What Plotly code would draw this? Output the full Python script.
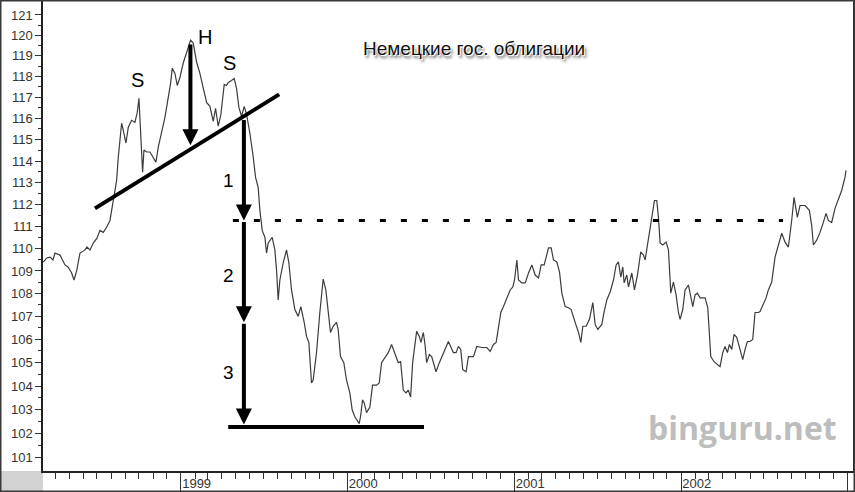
import numpy as np
import plotly.graph_objects as go
from datetime import datetime

# ---------------- data ----------------
dec_years = [
    1998.174, 1998.194, 1998.214, 1998.232, 1998.244, 1998.274, 1998.304, 1998.322, 1998.344, 1998.358,
    1998.374, 1998.394, 1998.424, 1998.436, 1998.454, 1998.474, 1998.496, 1998.514, 1998.534, 1998.554,
    1998.574, 1998.594, 1998.614, 1998.624, 1998.634, 1998.644, 1998.654, 1998.670, 1998.684, 1998.704,
    1998.724, 1998.738, 1998.748, 1998.754, 1998.764, 1998.770, 1998.778, 1998.794, 1998.814, 1998.834,
    1998.850, 1998.864, 1998.884, 1998.904, 1998.924, 1998.938, 1998.948, 1998.964, 1998.978, 1998.994,
    1999.014, 1999.034, 1999.044, 1999.058, 1999.074, 1999.094, 1999.114, 1999.134, 1999.154, 1999.174,
    1999.194, 1999.208, 1999.224, 1999.240, 1999.260, 1999.274, 1999.284, 1999.304, 1999.320, 1999.334,
    1999.348, 1999.364, 1999.380, 1999.394, 1999.414, 1999.434, 1999.448, 1999.464, 1999.474, 1999.488,
    1999.504, 1999.514, 1999.524, 1999.548, 1999.564, 1999.574, 1999.584, 1999.594, 1999.614, 1999.634,
    1999.648, 1999.664, 1999.684, 1999.704, 1999.720, 1999.740, 1999.754, 1999.768, 1999.784, 1999.794,
    1999.814, 1999.834, 1999.854, 1999.870, 1999.884, 1999.898, 1999.914, 1999.934, 1999.944, 1999.958,
    1999.978, 1999.994, 2000.014, 2000.028, 2000.044, 2000.070, 2000.078, 2000.090, 2000.100, 2000.114,
    2000.134, 2000.150, 2000.174, 2000.190, 2000.204, 2000.224, 2000.244, 2000.264, 2000.284, 2000.304,
    2000.318, 2000.334, 2000.350, 2000.364, 2000.378, 2000.390, 2000.400, 2000.414, 2000.430, 2000.440,
    2000.454, 2000.464, 2000.474, 2000.490, 2000.504, 2000.530, 2000.550, 2000.570, 2000.590, 2000.604,
    2000.620, 2000.634, 2000.650, 2000.664, 2000.678, 2000.690, 2000.710, 2000.724, 2000.754, 2000.774,
    2000.804, 2000.834, 2000.854, 2000.874, 2000.890, 2000.904, 2000.918, 2000.934, 2000.954, 2000.974,
    2000.990, 2001.000, 2001.014, 2001.024, 2001.044, 2001.064, 2001.084, 2001.104, 2001.124, 2001.144,
    2001.160, 2001.178, 2001.190, 2001.204, 2001.220, 2001.234, 2001.254, 2001.270, 2001.284, 2001.304,
    2001.324, 2001.340, 2001.364, 2001.384, 2001.398, 2001.410, 2001.430, 2001.450, 2001.470, 2001.484,
    2001.500, 2001.524, 2001.538, 2001.554, 2001.574, 2001.594, 2001.610, 2001.624, 2001.638, 2001.650,
    2001.658, 2001.674, 2001.684, 2001.704, 2001.720, 2001.738, 2001.758, 2001.774, 2001.784, 2001.798,
    2001.814, 2001.828, 2001.840, 2001.854, 2001.864, 2001.874, 2001.890, 2001.910, 2001.924, 2001.934,
    2001.938, 2001.954, 2001.970, 2001.984, 2001.994, 2002.010, 2002.024, 2002.044, 2002.054, 2002.070,
    2002.084, 2002.098, 2002.114, 2002.144, 2002.160, 2002.170, 2002.178, 2002.198, 2002.218, 2002.234,
    2002.250, 2002.264, 2002.278, 2002.290, 2002.304, 2002.318, 2002.334, 2002.354, 2002.370, 2002.384,
    2002.398, 2002.414, 2002.430, 2002.444, 2002.464, 2002.474, 2002.492, 2002.510, 2002.524, 2002.544,
    2002.564, 2002.584, 2002.604, 2002.624, 2002.644, 2002.664, 2002.678, 2002.698, 2002.714, 2002.744,
    2002.770, 2002.784, 2002.794, 2002.814, 2002.834, 2002.854, 2002.870, 2002.884, 2002.904, 2002.924,
    2002.944, 2002.964, 2002.984, 2002.990,
]
prices = [
    109.40, 109.58, 109.62, 109.49, 109.80, 109.71, 109.27, 109.18, 108.91, 108.60,
    109.00, 109.80, 109.94, 110.07, 109.94, 110.25, 110.47, 110.82, 110.73, 110.96,
    111.27, 112.18, 113.10, 114.19, 115.12, 115.77, 115.44, 114.84, 115.58, 115.91,
    115.81, 116.29, 116.95, 116.05, 114.51, 113.48, 114.51, 114.42, 114.42, 114.19,
    113.95, 114.65, 115.30, 116.05, 117.00, 117.67, 118.40, 118.15, 117.57, 117.95,
    118.65, 119.14, 119.43, 119.76, 119.62, 118.70, 118.15, 117.48, 116.76, 116.57,
    115.86, 116.48, 115.63, 116.19, 117.62, 117.57, 117.71, 117.81, 117.90, 117.43,
    116.52, 116.10, 116.57, 116.19, 115.30, 114.19, 113.24, 112.77, 111.73, 110.82,
    110.51, 109.80, 110.25, 110.51, 109.94, 109.04, 107.72, 108.60, 109.36, 109.94,
    109.36, 108.16, 107.30, 107.00, 107.43, 106.74, 106.13, 105.87, 104.13, 104.26,
    105.43, 107.17, 108.64, 108.16, 107.17, 106.30, 106.57, 106.74, 106.43, 105.26,
    105.00, 104.26, 103.71, 103.00, 102.71, 102.42, 102.71, 103.42, 103.29, 102.88,
    103.12, 104.04, 104.04, 104.13, 105.00, 105.22, 105.43, 105.78, 105.43, 105.00,
    105.04, 103.83, 103.71, 103.83, 103.54, 105.00, 105.57, 106.35, 106.13, 105.87,
    106.30, 105.78, 105.00, 105.35, 105.26, 104.61, 105.00, 105.35, 105.65, 105.91,
    105.65, 105.43, 105.43, 105.70, 105.57, 104.70, 104.61, 105.26, 105.26, 105.70,
    105.65, 105.65, 105.48, 105.78, 105.87, 106.52, 107.17, 107.43, 107.81, 108.16,
    108.29, 108.60, 109.49, 108.60, 108.47, 108.47, 108.91, 109.27, 108.82, 108.69,
    109.27, 109.27, 109.62, 110.03, 110.03, 109.49, 109.40, 108.96, 108.02, 107.43,
    107.38, 107.30, 106.74, 106.30, 105.87, 106.57, 106.57, 106.87, 107.60, 106.65,
    106.43, 106.65, 107.21, 107.72, 108.07, 108.60, 109.27, 109.40, 108.73, 109.18,
    108.47, 108.82, 108.29, 108.91, 108.16, 108.82, 109.85, 109.71, 109.49, 110.16,
    110.73, 111.41, 112.18, 112.18, 111.41, 110.25, 110.16, 110.29, 109.94, 108.60,
    108.02, 108.51, 107.94, 107.17, 106.87, 107.30, 108.16, 108.38, 108.02, 107.43,
    107.94, 108.02, 107.81, 107.81, 107.38, 106.43, 105.26, 105.04, 104.91, 104.83,
    105.43, 105.70, 105.43, 105.78, 105.57, 106.22, 106.09, 105.57, 105.13, 105.57,
    105.91, 105.91, 106.00, 107.17, 107.17, 107.21, 107.51, 107.81, 108.16, 108.51,
    109.62, 110.16, 110.69, 110.29, 110.07, 111.27, 112.32, 111.41, 111.95, 111.95,
    111.73, 111.05, 110.16, 110.38, 110.73, 111.18, 111.59, 111.27, 111.18, 111.82,
    112.27, 112.64, 113.24, 113.57,
]

year_ticks = [1998, 1999, 2000, 2001, 2002, 2003]
price_ticks = list(range(101, 122))

# annotation geometry (data coordinates)
neck_x = [1998.484, 1999.590]
neck_y = [111.82, 117.14]
target_level = 111.27
target_x = [1999.312, 2002.612]
floor_level = 102.28
floor_x = [1999.284, 2000.458]
head_arrow_x = 1999.057
head_arrow_y = [119.62, 114.74]
move_x = 1999.378
move_levels = [116.0, 111.27, 106.74, 102.38]
move_labels = ["1", "2", "3"]
move_label_x = 1999.288
move_label_y = [113.1, 108.82, 104.57]
pattern_labels = ["S", "H", "S"]
pattern_label_x = [1998.740, 1999.144, 1999.294]
pattern_label_y = [117.84, 119.9, 118.64]

title_text = "Немецкие гос. облигации"
watermark = "binguru.net"


def dec2date(d):
    y = int(np.floor(d))
    a = datetime(y, 1, 1)
    b = datetime(y + 1, 1, 1)
    return a + (d - y) * (b - a)


FONT = "Liberation Sans, Arial, Helvetica, sans-serif"
L, R, T, B = 43, 2, 1, 21
W, H = 855, 492
PW, PH = W - L - R, H - T - B

fig = go.Figure()

fig.add_trace(go.Scatter(
    x=[dec2date(d) for d in dec_years], y=prices, mode="lines",
    line=dict(color="#3c3c3c", width=1.2), hoverinfo="skip", showlegend=False))

# neckline
fig.add_trace(go.Scatter(x=[dec2date(d) for d in neck_x], y=neck_y, mode="lines",
                         line=dict(color="black", width=4), showlegend=False, hoverinfo="skip"))
# dashed target level
fig.add_trace(go.Scatter(x=[dec2date(d) for d in target_x], y=[target_level] * 2, mode="lines",
                         line=dict(color="black", width=3, dash="6px,15px"),
                         showlegend=False, hoverinfo="skip"))
# floor line
fig.add_trace(go.Scatter(x=[dec2date(d) for d in floor_x], y=[floor_level] * 2, mode="lines",
                         line=dict(color="black", width=4), showlegend=False, hoverinfo="skip"))

annotations = []


def arrow(x, y_from, y_to):
    return dict(x=dec2date(x), y=np.log10(y_to), ax=dec2date(x), ay=np.log10(y_from),
                xref="x", yref="y", axref="x", ayref="y", text="", showarrow=True,
                arrowhead=2, arrowwidth=4, arrowsize=0.8, arrowcolor="black", standoff=0)


annotations.append(arrow(head_arrow_x, head_arrow_y[0], head_arrow_y[1]))
for i in range(3):
    annotations.append(arrow(move_x, move_levels[i], move_levels[i + 1]))

for t, x, y in zip(move_labels, [move_label_x] * 3, move_label_y):
    annotations.append(dict(x=dec2date(x), y=np.log10(y), xref="x", yref="y", text=t,
                            showarrow=False, font=dict(family=FONT, size=19, color="black")))
for t, x, y in zip(pattern_labels, pattern_label_x, pattern_label_y):
    annotations.append(dict(x=dec2date(x), y=np.log10(y), xref="x", yref="y", text=t,
                            showarrow=False, font=dict(family=FONT, size=20, color="black")))

annotations.append(dict(x=(474 - L) / PW, y=1 - (36 - T) / PH, xref="paper", yref="paper",
                        text=title_text, showarrow=False,
                        font=dict(family=FONT, size=19, color="#111",
                                  shadow="1px 1px 0 #fff, -1px -1px 0 #fff, 2px 3px 3px #555")))
annotations.append(dict(x=(839 - L) / PW, y=1 - (451 - T) / PH, xref="paper", yref="paper",
                        xanchor="right", text=f"<b>{watermark}</b>", showarrow=False,
                        font=dict(family="Open Sans, Liberation Sans, sans-serif", size=32,
                                  color="#bdbdbd")))

shapes = [
    dict(type="rect", xref="paper", yref="paper", x0=-L / PW, x1=0, y0=-B / PH, y1=0,
         fillcolor="#d2d2d2", line=dict(width=0), layer="below"),
    dict(type="rect", xref="paper", yref="paper", x0=-L / PW + 0.5 / PW, x1=1 + (R - 0.5) / PW,
         y0=-B / PH + 0.5 / PH, y1=1 + (T - 0.5) / PH, line=dict(color="#3a3a3a", width=2)),
]

x_lo, x_hi = 1998.172, 2003.032
fig.update_layout(
    width=W, height=H, margin=dict(l=L, r=R, t=T, b=B, autoexpand=False),
    paper_bgcolor="white", plot_bgcolor="white",
    annotations=annotations, shapes=shapes, showlegend=False,
    xaxis=dict(
        type="date", range=[dec2date(x_lo), dec2date(x_hi)], automargin=False,
        showgrid=False, zeroline=False, showline=True, linecolor="#222", linewidth=1.5, mirror=True,
        tickmode="array", tickvals=[datetime(y, 1, 1) for y in year_ticks],
        ticktext=[str(y) for y in year_ticks],
        ticks="outside", ticklen=20, tickwidth=1, tickcolor="#333",
        ticklabelposition="outside right", ticklabelstandoff=0,
        tickfont=dict(family=FONT, size=13, color="#333"),
        minor=dict(ticks="outside", ticklen=6, tickwidth=1, tickcolor="#333",
                   dtick="M1", tick0="1998-01-01", showgrid=False),
    ),
    yaxis=dict(
        type="log", range=[np.log10(100.46), np.log10(121.69)], automargin=False,
        showgrid=False, zeroline=False, showline=True, linecolor="#222", linewidth=1.5, mirror=True,
        tickmode="array", tickvals=price_ticks, ticktext=[str(v) for v in price_ticks],
        ticks="outside", ticklen=6, tickwidth=1, tickcolor="#333",
        tickfont=dict(family=FONT, size=13, color="#333"),
        minor=dict(ticks="outside", ticklen=3, tickwidth=1, tickcolor="#333",
                   tickmode="array", tickvals=[v + 0.5 for v in price_ticks[:-1]], showgrid=False),
    ),
)

fig.write_html("out.html", config={"displayModeBar": False},
               post_script="document.body.style.margin='0';document.body.style.overflow='hidden';")
